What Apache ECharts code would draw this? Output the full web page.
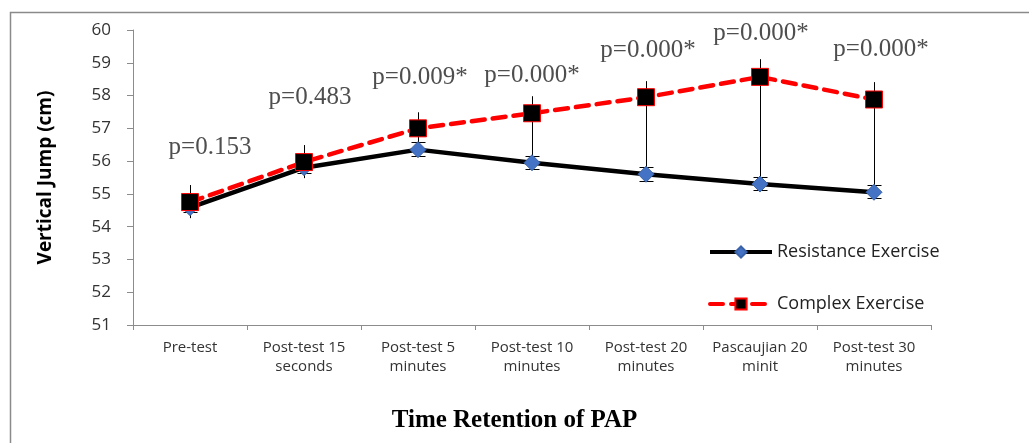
<!DOCTYPE html>
<html>
<head>
<meta charset="utf-8">
<script src="https://cdn.jsdelivr.net/npm/echarts@6/dist/echarts.min.js"></script>
<style>
html,body{margin:0;padding:0;background:#fff;}
#chart{width:1029px;height:443px;}
</style>
</head>
<body>
<div id="chart"></div>
<script>
// ---- data ----
const categories = ['Pre-test', 'Post-test 15\nseconds', 'Post-test 5\nminutes', 'Post-test 10\nminutes', 'Post-test 20\nminutes', 'Pascaujian 20\nminit', 'Post-test 30\nminutes'];
const resistance = [54.58, 55.8, 56.35, 55.95, 55.6, 55.3, 55.05];
const complexEx = [54.75, 55.97, 57.0, 57.46, 57.95, 58.57, 57.88];
const resistanceLow = [54.45, 55.64, 56.15, 55.76, 55.39, 55.12, 54.87];
const resistanceHigh = [54.75, 55.95, 56.58, 56.15, 55.82, 55.51, 55.27];
const complexLow = [54.26, 55.48, 56.35, 55.95, 55.6, 55.3, 55.05];
const complexHigh = [55.27, 56.49, 57.49, 57.98, 58.44, 59.11, 58.41];
const pValues = ['p=0.153', 'p=0.483', 'p=0.009*', 'p=0.000*', 'p=0.000*', 'p=0.000*', 'p=0.000*'];
const yTicks = { min: 51, max: 60, interval: 1 };

// ---- styling (label offsets in pixels) ----
const pLabelOffsets = [[20, -38], [6, -48], [2, -35], [0, -21], [2, -31], [1, -26], [7, -33]];

function errorBars(lowArr, highArr, color, capHalf) {
  return {
    type: 'custom',
    z: 1,
    silent: true,
    data: lowArr.map((lo, i) => [i, lo, highArr[i]]),
    encode: { x: 0, y: [1, 2] },
    renderItem: function (params, api) {
      const x = api.value(0);
      const pLo = api.coord([x, api.value(1)]);
      const pHi = api.coord([x, api.value(2)]);
      const cx = Math.round(pLo[0]) + 0.5;
      const children = [{
        type: 'line',
        shape: { x1: cx, y1: pLo[1], x2: cx, y2: pHi[1] },
        style: { stroke: color, lineWidth: 1 }
      }];
      if (capHalf > 0) {
        [pLo, pHi].forEach(p => {
          const cy = Math.round(p[1]) + 0.5;
          children.push({
            type: 'line',
            shape: { x1: cx - capHalf, y1: cy, x2: cx + capHalf, y2: cy },
            style: { stroke: color, lineWidth: 1 }
          });
        });
      }
      return { type: 'group', children: children };
    }
  };
}

const chart = echarts.init(document.getElementById('chart'), null, { renderer: 'canvas' });
chart.setOption({
  animation: false,
  backgroundColor: '#fff',
  graphic: [{
    type: 'rect',
    shape: { x: 10.5, y: 12.5, width: 1040, height: 450 },
    style: { fill: 'none', stroke: '#8a8a8a', lineWidth: 1.5 },
    z: -1
  }],
  title: {
    text: 'Time Retention of PAP',
    left: 'center',
    top: 403,
    textStyle: { fontFamily: 'Liberation Serif', fontWeight: 'bold', fontSize: 25, color: '#000' }
  },
  grid: { left: 133, right: 98, top: 30, bottom: 118, containLabel: false },
  legend: {
    orient: 'vertical',
    left: 703,
    top: 238,
    itemWidth: 62,
    itemHeight: 14,
    itemGap: 34,
    lineStyle: { width: 4 },
    textStyle: { fontFamily: 'Open Sans', fontSize: 18, color: '#222', padding: [0, 0, 0, 0] },
    data: ['Resistance Exercise', 'Complex Exercise']
  },
  xAxis: {
    type: 'category',
    data: categories,
    boundaryGap: true,
    axisLine: { lineStyle: { color: '#8c8c8c', width: 1 } },
    axisTick: { show: true, length: 5, lineStyle: { color: '#8c8c8c' } },
    axisLabel: { fontFamily: 'Open Sans', fontSize: 15, color: '#333', lineHeight: 19, margin: 13, interval: 0 }
  },
  yAxis: {
    type: 'value',
    min: yTicks.min,
    max: yTicks.max,
    interval: yTicks.interval,
    name: 'Vertical Jump (cm)',
    nameLocation: 'middle',
    nameGap: 78,
    nameTextStyle: { fontFamily: 'Open Sans', fontWeight: 'bold', fontSize: 19, color: '#000' },
    axisLine: { show: true, lineStyle: { color: '#8c8c8c', width: 1 } },
    axisTick: { show: true, length: 6, lineStyle: { color: '#8c8c8c' } },
    splitLine: { show: false },
    axisLabel: { fontFamily: 'Open Sans', fontSize: 17, color: '#333', margin: 22 }
  },
  series: [
    errorBars(complexLow, complexHigh, '#000', 0),
    errorBars(resistanceLow, resistanceHigh, '#000', 7),
    {
      name: 'Resistance Exercise',
      type: 'line',
      z: 3,
      data: resistance,
      symbol: 'diamond',
      symbolSize: 16,
      showAllSymbol: true,
      lineStyle: { color: '#000', width: 4.5 },
      itemStyle: { color: '#4472C4', borderColor: '#3a62a8', borderWidth: 1 }
    },
    {
      name: 'Complex Exercise',
      type: 'line',
      z: 4,
      data: complexEx,
      symbol: 'rect',
      symbolSize: 17,
      showAllSymbol: true,
      lineStyle: { color: '#ff0000', width: 4.5, type: [13, 8], cap: 'round' },
      itemStyle: { color: '#000', borderColor: '#ff0000', borderWidth: 1 }
    },
    {
      type: 'scatter',
      z: 5,
      silent: true,
      symbolSize: 1,
      itemStyle: { color: 'transparent' },
      data: complexHigh.map((v, i) => ({
        value: [i, v],
        label: {
          show: true,
          position: 'inside',
          offset: pLabelOffsets[i],
          formatter: pValues[i],
          fontFamily: 'Liberation Serif',
          fontSize: 25,
          color: '#222'
        }
      }))
    }
  ]
});
</script>
</body>
</html>
